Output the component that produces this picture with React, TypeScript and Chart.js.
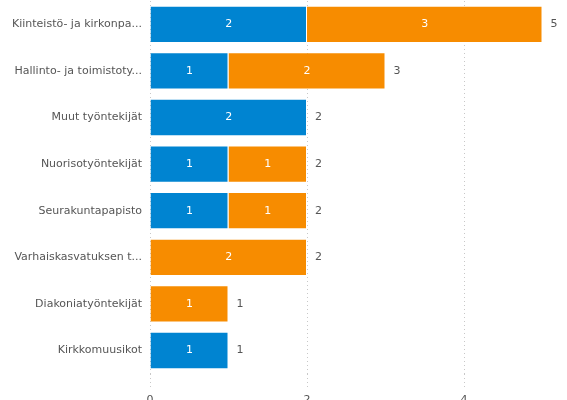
import React, { useEffect, useRef } from "react";
import { Chart, registerables } from "chart.js";

Chart.register(...registerables);

const categories = [
  "Kiinteistö- ja kirkonpa...",
  "Hallinto- ja toimistoty...",
  "Muut työntekijät",
  "Nuorisotyöntekijät",
  "Seurakuntapapisto",
  "Varhaiskasvatuksen t...",
  "Diakoniatyöntekijät",
  "Kirkkomuusikot",
];
const blueValues = [2, 1, 2, 1, 1, 0, 0, 1];
const orangeValues = [3, 2, 0, 1, 1, 2, 1, 0];
const xTicks = [0, 2, 4];

const FONT = "'DejaVu Sans', Verdana, sans-serif";

const labelPlugin = {
  id: "barLabels",
  afterDatasetsDraw(chart: any) {
    const ctx = chart.ctx;
    ctx.save();
    ctx.font = `11px ${FONT}`;
    ctx.textBaseline = "middle";
    const n = chart.data.labels.length;
    const ends: number[] = new Array(n).fill(-Infinity);
    chart.data.datasets.forEach((ds: any, di: number) => {
      const meta = chart.getDatasetMeta(di);
      meta.data.forEach((el: any, i: number) => {
        const v = ds.data[i];
        const right = Math.max(el.x, el.base);
        if (v > 0) {
          ends[i] = Math.max(ends[i], right);
          ctx.fillStyle = "#ffffff";
          ctx.textAlign = "center";
          ctx.fillText(String(v), (el.x + el.base) / 2, el.y);
        }
      });
    });
    const meta0 = chart.getDatasetMeta(0);
    for (let i = 0; i < n; i++) {
      const total = chart.data.datasets.reduce((s: number, ds: any) => s + (ds.data[i] || 0), 0);
      ctx.fillStyle = "#555555";
      ctx.textAlign = "left";
      ctx.fillText(String(total), ends[i] + 8, meta0.data[i].y);
    }
    ctx.restore();
  },
};

export default function App() {
  const ref = useRef<HTMLCanvasElement | null>(null);
  useEffect(() => {
    document.body.style.margin = "0";
    const chart = new Chart(ref.current!, {
      type: "bar",
      data: {
        labels: categories,
        datasets: [
          {
            label: "A",
            data: blueValues,
            backgroundColor: "#0084d1",
            borderColor: "rgba(255,255,255,0.35)",
            borderWidth: 1,
            barPercentage: 0.8,
            categoryPercentage: 1,
          },
          {
            label: "B",
            data: orangeValues,
            backgroundColor: "#f78c00",
            borderColor: "rgba(255,255,255,0.35)",
            borderWidth: 1,
            barPercentage: 0.8,
            categoryPercentage: 1,
          },
        ],
      },
      options: {
        indexAxis: "y",
        responsive: false,
        animation: false,
        layout: { padding: { top: 1, right: 24.5, left: 0, bottom: 0 } },
        plugins: {
          legend: { display: false },
          tooltip: { enabled: false },
        },
        scales: {
          x: {
            stacked: true,
            min: 0,
            max: 5,
            afterBuildTicks: (axis: any) => {
              axis.ticks = xTicks.map((v) => ({ value: v }));
            },
            grid: {
              color: "#c8c8c8",
              tickColor: "#c8c8c8",
              tickLength: 14,
              tickBorderDash: [1, 3],
              drawTicks: true,
            },
            border: { display: false, dash: [1, 3] },
            ticks: {
              color: "#555555",
              font: { size: 11, family: FONT },
              padding: 6,
            },
          },
          y: {
            stacked: true,
            grid: { display: false, drawTicks: false },
            border: { display: false },
            afterFit: (s: any) => {
              s.width = 150;
              s.paddingTop = 0;
              s.paddingBottom = 0;
            },
            ticks: {
              color: "#555555",
              font: { size: 11, family: FONT },
              padding: 8,
            },
          },
        },
      },
      plugins: [labelPlugin],
    });
    return () => chart.destroy();
  }, []);
  return <canvas ref={ref} width={567} height={413} style={{ display: "block" }} />;
}
